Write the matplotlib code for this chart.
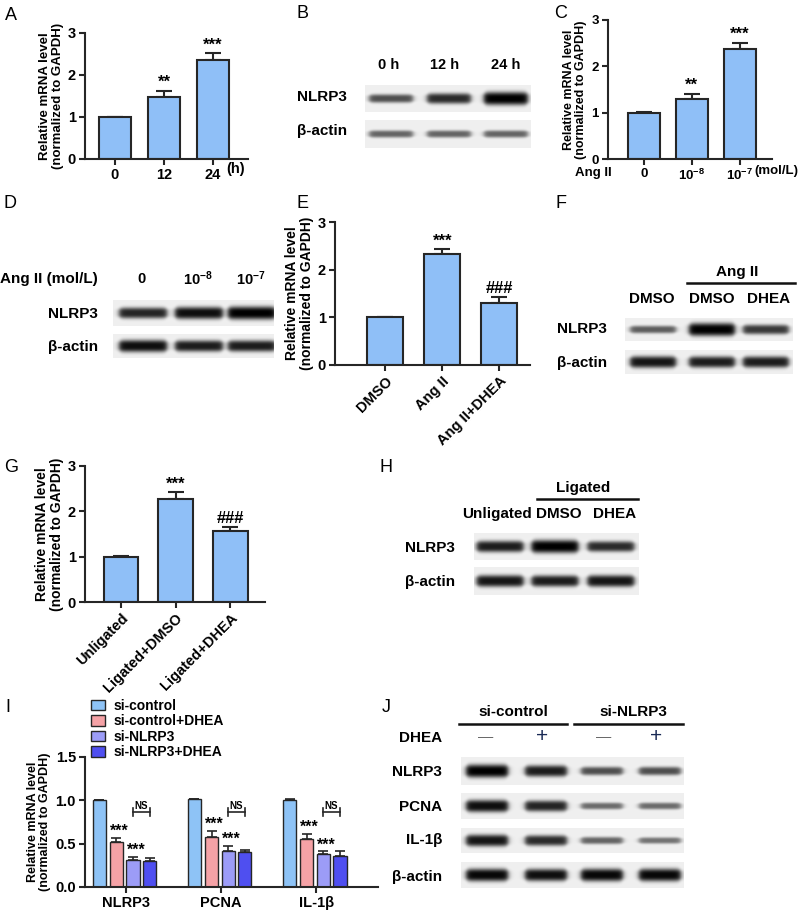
import numpy as np
import matplotlib
matplotlib.use('Agg')
import matplotlib.pyplot as plt
from matplotlib.patches import Patch

plt.rcParams['font.family'] = ['Liberation Sans', 'DejaVu Sans']
plt.rcParams['mathtext.fontset'] = 'custom'
plt.rcParams['mathtext.rm'] = 'Liberation Sans:bold'
plt.rcParams['mathtext.bf'] = 'Liberation Sans:bold'
plt.rcParams['mathtext.default'] = 'bf'

W, H = 800, 911
BAR_BLUE = '#8fbff7'
EDGE = '#262626'

# ---- A: NLRP3 mRNA over time ----
a_labels = ['0', '12', '24']
a_values = [1.0, 1.48, 2.35]
a_errors = [0.01, 0.15, 0.17]
a_marks = ['', '**', '***']

# ---- C: Ang II dose ----
c_labels = ['0', '$10^{-8}$', '$10^{-7}$']
c_values = [1.0, 1.30, 2.37]
c_errors = [0.01, 0.11, 0.14]
c_marks = ['', '**', '***']

# ---- E ----
e_labels = ['DMSO', 'Ang II', 'Ang II+DHEA']
e_values = [1.0, 2.33, 1.30]
e_errors = [0.01, 0.10, 0.13]
e_marks = ['', '***', '###']

# ---- G ----
g_labels = ['Unligated', 'Ligated+DMSO', 'Ligated+DHEA']
g_values = [1.0, 2.27, 1.56]
g_errors = [0.01, 0.15, 0.10]
g_marks = ['', '***', '###']

# ---- I ----
i_genes = ['NLRP3', 'PCNA', 'IL-1β']
i_groups = ['si-control', 'si-control+DHEA', 'si-NLRP3', 'si-NLRP3+DHEA']
i_colors = ['#8ec3f6', '#f5a2a6', '#9c9cf7', '#4f4ff0']
i_values = [[1.0, 0.52, 0.31, 0.30],
            [1.01, 0.58, 0.42, 0.40],
            [1.0, 0.55, 0.38, 0.36]]
i_errors = [[0.0, 0.05, 0.04, 0.04],
            [0.01, 0.07, 0.05, 0.03],
            [0.01, 0.06, 0.03, 0.05]]
i_marks = ['', '***', '***', '']

# ---- western blot band intensities (0..1) ----
b_lanes = ['0 h', '12 h', '24 h']
b_nlrp3 = [0.45, 0.7, 1.0]
b_actin = [0.3, 0.3, 0.3]

d_lanes = ['0', '$10^{-8}$', '$10^{-7}$']
d_nlrp3 = [0.75, 0.9, 1.0]
d_actin = [0.9, 0.8, 0.8]

f_lanes = ['DMSO', 'DMSO', 'DHEA']
f_nlrp3 = [0.35, 1.0, 0.6]
f_actin = [0.85, 0.8, 0.8]

h_lanes = ['Unligated', 'DMSO', 'DHEA']
h_nlrp3 = [0.8, 1.0, 0.7]
h_actin = [0.85, 0.8, 0.85]

j_dhea = ['—', '+', '—', '+']
j_nlrp3 = [1.0, 0.8, 0.45, 0.45]
j_pcna = [0.9, 0.75, 0.25, 0.25]
j_il1b = [0.85, 0.7, 0.3, 0.2]
j_actin = [0.95, 0.9, 0.95, 0.95]

fig = plt.figure(figsize=(W / 100, H / 100), dpi=100)
cv = fig.add_axes([0, 0, 1, 1])
cv.set_axis_off()


def txt(x, y, s, ha='center', size=11, weight='bold', **kw):
    cv.text(x, y, s, ha=ha, va='center', fontsize=size, fontweight=weight, **kw)


def blot(x0, x1, y0, y1, centers, levels, band_w):
    nx, ny = int((x1 - x0) * 3), int((y1 - y0) * 3)
    xs = np.linspace(x0, x1, nx)
    ys = np.linspace(y0, y1, ny)[:, None]
    img = np.full((ny, nx), 0.94)
    ym = (y0 + y1) / 2
    for c, lv in zip(centers, levels):
        dark = 0.4 + 0.6 * lv
        half_t = 2.4 + 4.2 * lv
        edge = 1 / (1 + np.exp(-(xs - (c - band_w / 2)) / 1.5)) / (1 + np.exp((xs - (c + band_w / 2)) / 1.5))
        local_t = half_t * (0.7 + 0.3 * edge)
        prof = np.exp(-np.abs((ys - ym) / local_t) ** 3)
        img = img - img * dark * prof * edge
    cv.imshow(img, cmap='gray', vmin=0, vmax=1, extent=(x0, x1, y1, y0),
              aspect='auto', interpolation='bilinear', zorder=1)


def style_axes(ax, labsize, ylsize):
    for s in ['top', 'right']:
        ax.spines[s].set_visible(False)
    for s in ['left', 'bottom']:
        ax.spines[s].set_linewidth(1.5)
        ax.spines[s].set_color(EDGE)
    ax.tick_params(width=1.5, length=4, color=EDGE, labelsize=labsize, pad=2.5)
    for lab in ax.get_xticklabels() + ax.get_yticklabels():
        lab.set_fontweight('bold')
    ax.set_ylabel('Relative mRNA level\n(normalized to GAPDH)', fontsize=ylsize,
                  fontweight='bold', linespacing=1.05, labelpad=3)
    ax.patch.set_alpha(0)


def bar_panel(px, labels, values, errors, marks, xlim, width, ylsize=9.5, labsize=10.5, rot=0):
    xa, xb, yt, yb = px
    ax = fig.add_axes([xa / W, 1 - yb / H, (xb - xa) / W, (yb - yt) / H])
    x = np.arange(len(values))
    ax.bar(x, values, width, color=BAR_BLUE, edgecolor=EDGE, linewidth=1.5, zorder=2)
    ax.errorbar(x, values, yerr=[np.zeros(len(errors)), errors], fmt='none', ecolor=EDGE,
                elinewidth=1.5, capsize=6, capthick=1.5, zorder=1)
    for xi, v, e, m in zip(x, values, errors, marks):
        ax.text(xi, v + e + 0.01, m, ha='center', va='bottom', fontsize=12, fontweight='bold')
    ax.set_xlim(xlim)
    ax.set_ylim(0, 3)
    ax.set_yticks([0, 1, 2, 3])
    ax.set_xticks(x)
    if rot:
        ax.set_xticklabels(labels, rotation=rot, ha='right', rotation_mode='anchor')
    else:
        ax.set_xticklabels(labels)
    style_axes(ax, labsize, ylsize)
    return ax


# ---------- panel A ----------
axA = bar_panel((85, 248, 33, 159), a_labels, a_values, a_errors, a_marks, (-0.61, 2.71), 0.65)
axA.text(2.27, -0.24, '(h)', ha='left', va='center', fontsize=10.5, fontweight='bold')

# ---------- panel C ----------
axC = bar_panel((608, 772, 20, 159), c_labels, c_values, c_errors, c_marks, (-0.75, 2.67), 0.66,
                ylsize=9, labsize=9.5)
axC.text(-1.05, -0.3, 'Ang II', ha='center', va='center', fontsize=9.5, fontweight='bold')
axC.text(2.3, -0.26, '(mol/L)', ha='left', va='center', fontsize=9.5, fontweight='bold')

# ---------- panel E ----------
bar_panel((335, 530, 222, 365), e_labels, e_values, e_errors, e_marks, (-0.88, 2.54), 0.63,
          ylsize=10, labsize=10.5, rot=45)

# ---------- panel G ----------
bar_panel((85, 265, 466, 602), g_labels, g_values, g_errors, g_marks, (-0.66, 2.64), 0.64,
          ylsize=10, labsize=10.5, rot=45)

# ---------- panel I ----------
xa, xb, yt, yb = 85, 378, 757, 887
axI = fig.add_axes([xa / W, 1 - yb / H, (xb - xa) / W, (yb - yt) / H])
gx = np.arange(len(i_genes))
offs = np.array([-0.28, -0.1, 0.075, 0.25])
bw = 0.14
vals = np.array(i_values)
errs = np.array(i_errors)
for k, grp in enumerate(i_groups):
    axI.bar(gx + offs[k], vals[:, k], bw, color=i_colors[k], edgecolor=EDGE, linewidth=1,
            label=grp, zorder=2)
    axI.errorbar(gx + offs[k], vals[:, k], yerr=[np.zeros(len(gx)), errs[:, k]], fmt='none',
                 ecolor=EDGE, elinewidth=1.2, capsize=3.5, capthick=1.2, zorder=1)
    for g in gx:
        if i_marks[k]:
            axI.text(gx[g] + offs[k] + 0.03, vals[g, k] + errs[g, k] - 0.01, i_marks[k],
                     ha='center', va='bottom', fontsize=11.5, fontweight='bold')
for g in gx:
    xl, xr = g + offs[2], g + offs[3]
    axI.plot([xl, xr], [0.865, 0.865], color=EDGE, lw=1.2)
    axI.plot([xl, xl], [0.82, 0.91], color=EDGE, lw=1.2)
    axI.plot([xr, xr], [0.82, 0.91], color=EDGE, lw=1.2)
    axI.text((xl + xr) / 2, 0.875, 'NS', ha='center', va='bottom', fontsize=7, fontweight='bold')
axI.set_xlim(-0.43, 2.65)
axI.set_ylim(0, 1.5)
axI.set_yticks([0, 0.5, 1.0, 1.5])
axI.set_yticklabels(['0.0', '0.5', '1.0', '1.5'])
axI.set_xticks(gx)
axI.set_xticklabels(i_genes)
style_axes(axI, 10.5, 9)
handles = [Patch(facecolor=c, edgecolor=EDGE, linewidth=1) for c in i_colors]
fig.legend(handles, i_groups, loc='upper left', bbox_to_anchor=(91 / W, 1 - 699 / H),
           frameon=False, prop={'size': 10, 'weight': 'bold'}, handlelength=1.0,
           handleheight=0.8, handletextpad=0.6, labelspacing=0.1, borderpad=0, borderaxespad=0)

# ---------- blots ----------
# B
for lab, xc in zip(b_lanes, [389, 445, 506]):
    txt(xc, 65, lab, size=10.5)
txt(297, 97, 'NLRP3', ha='left')
txt(297, 131, 'β-actin', ha='left')
blot(365, 531, 85, 112, [391, 449, 506], b_nlrp3, 44)
blot(365, 531, 120, 148, [391, 449, 506], b_actin, 44)

# D
txt(98, 279, 'Ang II (mol/L)', ha='right', size=11)
for lab, xc in zip(d_lanes, [142, 198, 251]):
    txt(xc, 279, lab, size=10.5)
txt(98, 314, 'NLRP3', ha='right')
txt(98, 347, 'β-actin', ha='right')
blot(113, 274, 300, 326, [143, 199, 252], d_nlrp3, 48)
blot(113, 274, 334, 358, [143, 199, 252], d_actin, 48)

# F
txt(737, 272, 'Ang II')
cv.plot([687, 795], [283, 283], color='#111', lw=1.8)
for lab, xc in zip(f_lanes, [652, 712, 769]):
    txt(xc, 299, lab)
txt(557, 329, 'NLRP3', ha='left')
txt(557, 363, 'β-actin', ha='left')
blot(625, 793, 318, 341, [653, 712, 766], f_nlrp3, 46)
blot(625, 793, 350, 374, [653, 712, 766], f_actin, 46)

# H
txt(583, 488, 'Ligated')
cv.plot([537, 638], [499, 499], color='#111', lw=1.8)
for lab, xc in zip(h_lanes, [497, 559, 615]):
    txt(xc, 514, lab)
txt(455, 548, 'NLRP3', ha='right')
txt(455, 582, 'β-actin', ha='right')
blot(474, 639, 533, 560, [500, 555, 611], h_nlrp3, 47)
blot(474, 639, 567, 595, [500, 555, 611], h_actin, 47)

# J
txt(513, 712, 'si-control')
txt(633, 712, 'si-NLRP3')
cv.plot([459, 567], [724, 724], color='#111', lw=1.8)
cv.plot([574, 683], [724, 724], color='#111', lw=1.8)
txt(442, 738, 'DHEA', ha='right')
for lab, xc in zip(j_dhea, [486, 542, 604, 656]):
    if lab == '—':
        txt(xc, 737, lab, size=11, weight='normal', color='#666')
    else:
        txt(xc, 737, lab, size=15, weight='light', color='#1a2a55')
jc = [487, 546, 602, 660]
for lab, yc, lv, (y0, y1) in zip(['NLRP3', 'PCNA', 'IL-1β', 'β-actin'],
                                 [772, 807, 840, 877],
                                 [j_nlrp3, j_pcna, j_il1b, j_actin],
                                 [(757, 785), (793, 819), (828, 853), (862, 888)]):
    txt(442, yc, lab, ha='right')
    blot(461, 684, y0, y1, jc, lv, 42)

# panel letters
for letter, x, y in [('A', 11, 15), ('B', 303, 13), ('C', 561, 13), ('D', 10, 203),
                     ('E', 303, 203), ('F', 561, 203), ('G', 11, 467), ('H', 386, 467),
                     ('I', 8, 708), ('J', 386, 708)]:
    txt(x, y, letter, size=13, weight='normal')

cv.set_xlim(0, W)
cv.set_ylim(H, 0)
fig.savefig('out.png', dpi=100)
